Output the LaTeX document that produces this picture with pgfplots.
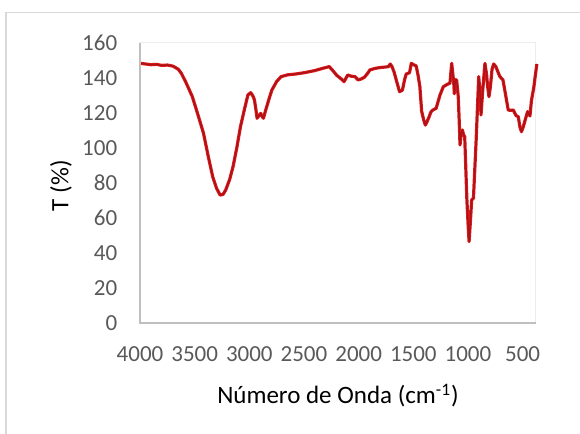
\documentclass[border=0pt]{standalone}
\usepackage{pgfplots}
\usepackage{pgfplotstable}
\pgfplotsset{compat=1.18}
\usepackage{fontspec}
\setmainfont{Carlito}

\definecolor{ticktext}{HTML}{595959}
\definecolor{axisgray}{HTML}{BFBFBF}
\definecolor{boxgray}{HTML}{EDEDED}
\definecolor{framegray}{HTML}{D9D9D9}
\definecolor{spectrumred}{RGB}{222,24,24}
\definecolor{spectrumcore}{RGB}{168,18,24}

% FTIR spectrum: wavenumber (cm^-1) vs transmittance (%)
\pgfplotstableread{
w T
4000 148.4
3950 148.0
3900 147.6
3850 147.8
3800 147.2
3750 147.4
3700 146.8
3690 146.5
3650 145.0
3622 142.7
3580 137.5
3521 129.3
3470 119.0
3419 108.4
3375 95.0
3335 83.6
3300 77.0
3267 73.1
3240 73.5
3216 76.0
3180 82.0
3149 89.3
3115 100.0
3081 112.2
3045 122.0
3013 130.3
2987 131.6
2965 129.5
2953 127.4
2940 122.0
2929 117.0
2912 118.5
2895 119.8
2883 118.0
2871 117.0
2850 121.7
2820 128.0
2794 133.1
2750 138.0
2709 140.8
2650 141.8
2573 142.3
2500 143.0
2404 144.2
2330 145.5
2269 146.5
2240 144.5
2200 141.5
2160 139.5
2134 137.9
2115 140.0
2100 141.7
2065 141.0
2034 140.8
2005 138.9
1975 139.5
1948 140.4
1920 142.5
1897 144.6
1850 145.5
1800 146.0
1750 146.3
1727 146.5
1711 148.0
1695 146.5
1677 143.6
1650 137.5
1626 132.2
1600 133.0
1580 139.0
1565 142.3
1535 143.0
1518 148.4
1495 147.5
1474 146.9
1455 141.0
1440 135.0
1424 121.0
1405 116.0
1390 113.1
1375 115.0
1355 117.9
1340 120.5
1321 121.7
1291 122.7
1256 130.3
1226 135.0
1186 136.5
1165 137.0
1149 148.4
1140 143.0
1130 137.0
1125 131.0
1115 139.0
1104 138.9
1089 129.3
1080 115.0
1073 101.7
1062 108.0
1051 110.3
1040 107.5
1030 106.5
1010 70.3
998 55.0
990 46.5
978 58.0
966 70.3
950 71.4
925 105.0
902 140.8
890 132.0
881 118.9
865 133.0
845 148.4
830 142.0
820 135.0
808 129.3
795 135.0
780 145.0
765 148.0
745 146.5
720 142.5
708 140.8
680 138.9
655 130.0
632 121.7
610 121.5
586 121.7
560 118.5
540 117.9
525 112.0
511 109.3
495 112.0
470 117.5
455 120.8
440 119.0
433 118.3
420 127.0
397 135.0
385 141.0
370 148.0
}\spectrum

\begin{document}
\begin{tikzpicture}
\path[use as bounding box] (-70pt,-55.5pt) rectangle (220pt,161.5pt);
% chart frame
\draw[framegray, line width=0.7pt] (-67pt,-60pt) -- (-67pt,155.2pt) -- (225pt,155.2pt);
\begin{axis}[
  at={(0pt,0pt)}, anchor=south west,
  scale only axis,
  width=198pt, height=140pt,
  x dir=reverse,
  xmin=378, xmax=4000, ymin=0, ymax=160,
  xtick={500,1000,...,4000},
  ytick={0,20,...,160},
  major tick length=0pt,
  axis line style={draw=boxgray, line width=0.5pt},
  /pgf/number format/1000 sep={},
  /pgf/number format/assume math mode=true,
  xticklabel style={font=\fontsize{11.5}{13}\selectfont, text=ticktext,
    inner sep=0pt, anchor=north, yshift=-11.8pt},
  yticklabel style={font=\fontsize{11.5}{13}\selectfont, text=ticktext,
    inner sep=0pt, anchor=east, xshift=-11.2pt},
  clip=false,
]
\addplot[spectrumred, line width=1.6pt, line join=round] table[x=w, y=T] {\spectrum};
\addplot[spectrumcore, line width=0.7pt, line join=round] table[x=w, y=T] {\spectrum};
\end{axis}
% left and bottom axis lines
\draw[axisgray, line width=0.8pt] (0pt,140pt) -- (0pt,0pt) -- (198pt,0pt);
% axis titles
\node[anchor=base, font=\fontsize{12.5}{15}\selectfont] at (99pt,-40.5pt)
  {Número de Onda (cm\textsuperscript{-1})};
\node[rotate=90, font=\fontsize{12.5}{15}\selectfont] at (-39.5pt,68.7pt) {T (\%)};
\end{tikzpicture}
\end{document}
